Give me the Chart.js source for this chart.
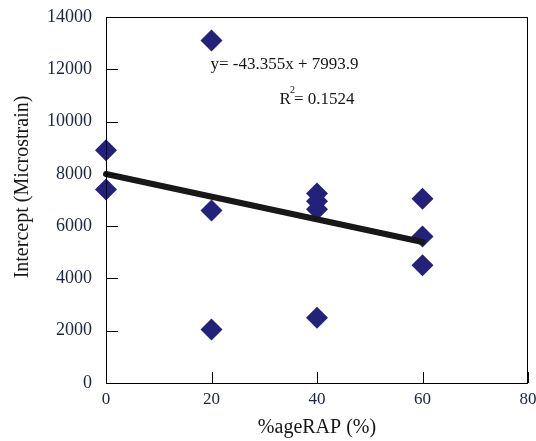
<!DOCTYPE html>
<html>
<head>
<meta charset="utf-8">
<script src="https://cdn.jsdelivr.net/npm/chart.js@4.4.1/dist/chart.umd.min.js"></script>
<style>
  html, body { margin: 0; padding: 0; background: #fff; }
  #wrap { width: 536px; height: 441px; }
</style>
</head>
<body>
<div id="wrap"><canvas id="c" width="536" height="441"></canvas></div>
<script>
const rapPct = [0, 0, 20, 20, 20, 40, 40, 40, 40, 60, 60, 60];
const intercepts = [8900, 7400, 13100, 6600, 2050, 7250, 6950, 6650, 2500, 7050, 5600, 4500];

// fitted trend line
const slope = -43.355;
const offset = 7993.9;
const trendX = [0, 60];
const rSquared = 0.1524;

const xTicks = [0, 20, 40, 60, 80];
const yTicks = [0, 2000, 4000, 6000, 8000, 10000, 12000, 14000];

const serif = "'Liberation Serif', 'DejaVu Serif', serif";
const textColor = "#161616";
const tickColor = "#1c2540";

const points = rapPct.map((x, i) => ({ x, y: intercepts[i] }));
const trend = trendX.map(x => ({ x, y: slope * x + offset }));

const framePlugin = {
  id: "frame",
  afterDatasetsDraw(chart) {
    const { ctx, chartArea: a, scales } = chart;
    ctx.save();
    ctx.strokeStyle = "#000";
    ctx.lineWidth = 1;
    ctx.strokeRect(a.left + 0.5, a.top + 0.5, a.right - a.left - 1, a.bottom - a.top);

    // inward ticks
    ctx.beginPath();
    yTicks.forEach(v => {
      const py = Math.round(scales.y.getPixelForValue(v)) + 0.5;
      ctx.moveTo(a.left, py);
      ctx.lineTo(a.left + 12, py);
    });
    xTicks.forEach(v => {
      const px = Math.round(scales.x.getPixelForValue(v)) + 0.5;
      ctx.moveTo(px, a.bottom);
      ctx.lineTo(px, a.bottom - 11);
    });
    ctx.stroke();

    // axis titles
    ctx.fillStyle = textColor;
    ctx.font = "20px " + serif;
    ctx.textAlign = "center";
    ctx.textBaseline = "alphabetic";
    ctx.fillText("%ageRAP (%)", (a.left + a.right) / 2, 433);
    ctx.save();
    ctx.translate(28, 187);
    ctx.rotate(-Math.PI / 2);
    ctx.fillText("Intercept (Microstrain)", 0, 0);
    ctx.restore();

    // regression annotation
    ctx.textBaseline = "middle";
    ctx.font = "17px " + serif;
    ctx.textAlign = "left";
    ctx.fillText("y= " + slope + "x + " + offset, scales.x.getPixelForValue(19.8), scales.y.getPixelForValue(12200));
    const rx = scales.x.getPixelForValue(32.9);
    const ry = scales.y.getPixelForValue(10830);
    ctx.fillText("R", rx, ry);
    const rw = ctx.measureText("R").width;
    ctx.font = "10px " + serif;
    ctx.fillText("2", rx + rw - 1, ry - 9);
    ctx.font = "17px " + serif;
    ctx.fillText("= " + rSquared, rx + rw + 3, ry);
    ctx.restore();
  }
};

new Chart(document.getElementById("c"), {
  type: "scatter",
  data: {
    datasets: [
      {
        label: "Intercept",
        data: points,
        pointStyle: "rectRot",
        pointRadius: 11,
        pointHoverRadius: 11,
        backgroundColor: "#22227a",
        borderColor: "#22227a",
        borderWidth: 0,
        clip: false,
        order: 2
      },
      {
        type: "line",
        label: "Trend",
        data: trend,
        borderColor: "#181818",
        borderWidth: 6,
        borderCapStyle: "round",
        pointRadius: 0,
        fill: false,
        clip: false,
        order: 1
      }
    ]
  },
  options: {
    responsive: false,
    animation: false,
    events: [],
    layout: { autoPadding: false, padding: { top: 17, right: 8, left: 0, bottom: 0 } },
    plugins: {
      legend: { display: false },
      tooltip: { enabled: false }
    },
    scales: {
      x: {
        type: "linear",
        min: 0,
        max: 80,
        afterFit(scale) {
          scale.height = 58;
          scale.paddingLeft = 0;
          scale.paddingRight = 0;
        },
        afterBuildTicks(scale) { scale.ticks = xTicks.map(v => ({ value: v })); },
        ticks: { padding: 6, color: tickColor, font: { family: serif, size: 17 }, callback: v => String(v) },
        grid: { display: false, drawTicks: false },
        border: { display: false }
      },
      y: {
        type: "linear",
        min: 0,
        max: 14000,
        afterFit(scale) {
          scale.width = 106;
          scale.paddingTop = 0;
          scale.paddingBottom = 0;
        },
        afterBuildTicks(scale) { scale.ticks = yTicks.map(v => ({ value: v })); },
        ticks: { padding: 14, color: tickColor, font: { family: serif, size: 18 }, callback: v => String(v) },
        grid: { display: false, drawTicks: false },
        border: { display: false }
      }
    }
  },
  plugins: [framePlugin]
});
</script>
</body>
</html>
